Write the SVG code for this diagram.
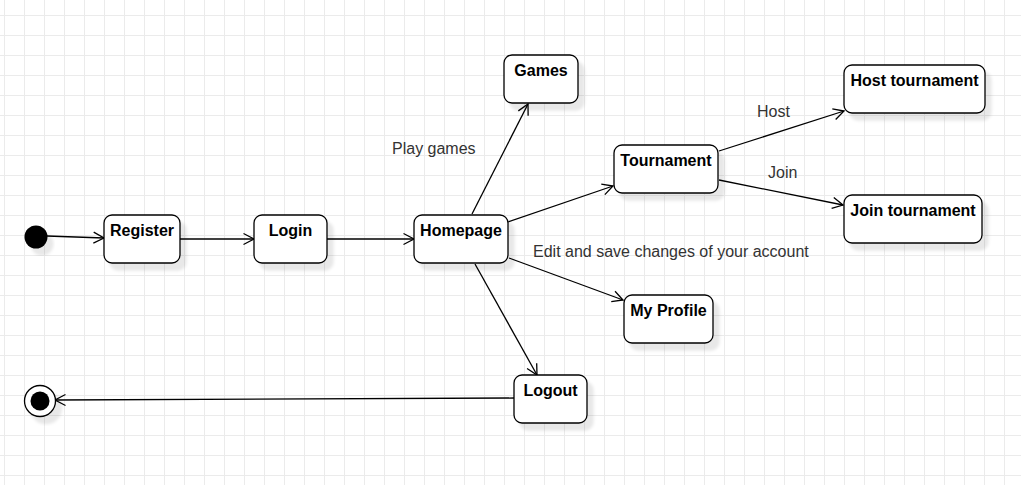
<svg xmlns="http://www.w3.org/2000/svg" width="1021" height="485" viewBox="0 0 1021 485">
  <defs>
    <pattern id="grid" patternUnits="userSpaceOnUse" x="4" y="15" width="20" height="20">
      <rect x="0" y="0" width="1" height="20" fill="#ebebeb"/>
      <rect x="0" y="0" width="20" height="1" fill="#ebebeb"/>
    </pattern>
    <filter id="shadow" x="-20%" y="-20%" width="150%" height="150%">
      <feDropShadow dx="6" dy="7" stdDeviation="1.5" flood-color="#000" flood-opacity="0.09"/>
    </filter>
    <marker id="open" markerUnits="userSpaceOnUse" markerWidth="14" markerHeight="14" viewBox="0 0 14 14" refX="12" refY="7" orient="auto">
      <path d="M1.5,1.5 L12,7 L1.5,12.5" fill="none" stroke="#000" stroke-width="1.3"/>
    </marker>
    <style>
      .node rect { fill: #fff; stroke: #000; stroke-width: 1.3; filter: url(#shadow); }
      .node text { font-family: "Liberation Sans", Arial, sans-serif; font-size: 16px; font-weight: bold; text-anchor: middle; fill: #000; }
      .edge { fill: none; stroke: #000; stroke-width: 1.3; marker-end: url(#open); }
      .lbl { font-family: "Liberation Sans", Arial, sans-serif; font-size: 16px; fill: #333; }
    </style>
  </defs>
  <rect x="0" y="0" width="1021" height="485" fill="#fff"/>
  <rect x="0" y="0" width="1021" height="485" fill="url(#grid)"/>

  <g id="connectors">
    <path class="edge" d="M47,236 L104,238"/>
    <path class="edge" d="M180,239 L254,239"/>
    <path class="edge" d="M327,239 L414,239"/>
    <path class="edge" d="M472,214 L528,104"/>
    <path class="edge" d="M508,222 L613,186"/>
    <path class="edge" d="M719,151 L844,111"/>
    <path class="edge" d="M719,180 L843,205"/>
    <path class="edge" d="M509,258 L623,300"/>
    <path class="edge" d="M475,264 L537,375"/>
    <path class="edge" d="M514,398 L55,400"/>
    <text class="lbl" x="392" y="154">Play games</text>
    <text class="lbl" x="757" y="117">Host</text>
    <text class="lbl" x="768" y="178">Join</text>
    <text class="lbl" x="533" y="257">Edit and save changes of your account</text>
  </g>

  <g id="start">
    <circle cx="36" cy="237" r="11.5" fill="#000" filter="url(#shadow)"/>
  </g>
  <g id="register" class="node">
    <rect x="104" y="215" width="76" height="48" rx="8"/>
    <text x="142" y="236">Register</text>
  </g>
  <g id="login" class="node">
    <rect x="254" y="215" width="73" height="48" rx="8"/>
    <text x="290.5" y="236">Login</text>
  </g>
  <g id="homepage" class="node">
    <rect x="414" y="215" width="94" height="48" rx="8"/>
    <text x="461" y="236">Homepage</text>
  </g>
  <g id="games" class="node">
    <rect x="504" y="55" width="74" height="48" rx="8"/>
    <text x="541" y="76">Games</text>
  </g>
  <g id="tournament" class="node">
    <rect x="614" y="145" width="104" height="48" rx="8"/>
    <text x="666" y="166">Tournament</text>
  </g>
  <g id="host-tournament" class="node">
    <rect x="844" y="65" width="141" height="48" rx="8"/>
    <text x="914.5" y="86">Host tournament</text>
  </g>
  <g id="join-tournament" class="node">
    <rect x="844" y="195" width="138" height="48" rx="8"/>
    <text x="913" y="216">Join tournament</text>
  </g>
  <g id="my-profile" class="node">
    <rect x="624" y="295" width="89" height="48" rx="8"/>
    <text x="668.5" y="316">My Profile</text>
  </g>
  <g id="logout" class="node">
    <rect x="514" y="375" width="73" height="48" rx="8"/>
    <text x="550.5" y="396">Logout</text>
  </g>
  <g id="end">
    <circle cx="40" cy="401" r="15.5" fill="#fff" stroke="#000" stroke-width="1.3" filter="url(#shadow)"/>
    <circle cx="40" cy="401" r="9.5" fill="#000"/>
  </g>
</svg>
